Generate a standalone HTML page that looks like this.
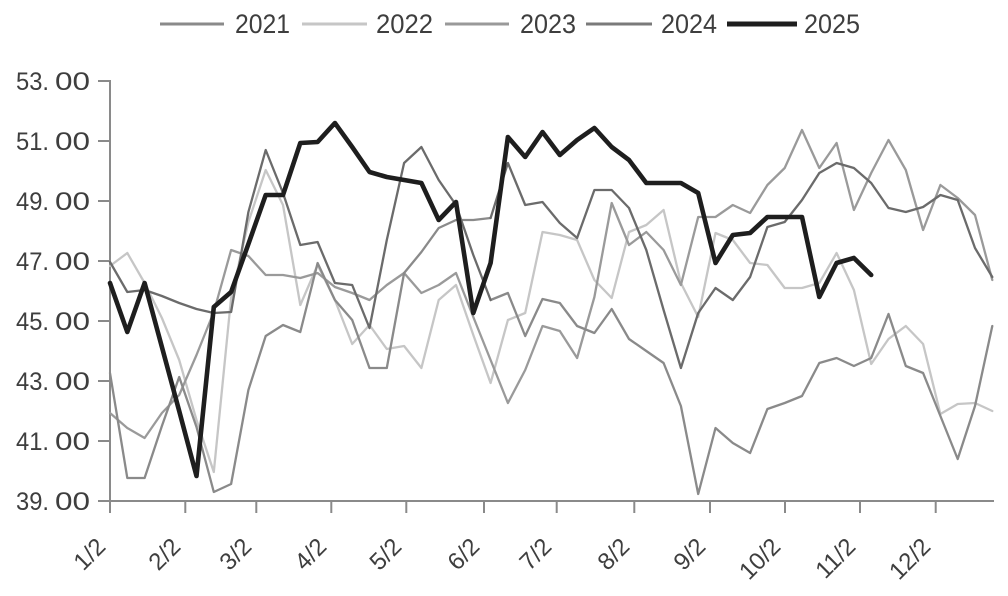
<!DOCTYPE html>
<html>
<head>
<meta charset="utf-8">
<style>
  html,body{margin:0;padding:0;background:#fff;}
  svg{display:block;}
  text{font-family:"Liberation Sans","Noto Sans CJK SC",sans-serif;fill:#3e3e3e;}
</style>
</head>
<body>
<svg width="1008" height="596" viewBox="0 0 1008 596" xmlns="http://www.w3.org/2000/svg">
  <rect width="1008" height="596" fill="#fff"/>

  <!-- Legend -->
  <g stroke-linecap="butt">
    <line x1="160" y1="24" x2="224" y2="24" stroke="#8a8a8a" stroke-width="3"/>
    <line x1="302" y1="24" x2="367" y2="24" stroke="#c6c6c6" stroke-width="3"/>
    <line x1="445" y1="24" x2="509" y2="24" stroke="#999999" stroke-width="3"/>
    <line x1="586" y1="24" x2="652" y2="24" stroke="#7a7a7a" stroke-width="3"/>
    <line x1="727" y1="24" x2="797" y2="24" stroke="#1e1e1e" stroke-width="5"/>
  </g>
  <g font-size="27">
    <text x="235" y="33" textLength="55" lengthAdjust="spacingAndGlyphs">2021</text>
    <text x="376" y="33" textLength="57" lengthAdjust="spacingAndGlyphs">2022</text>
    <text x="520" y="33" textLength="56" lengthAdjust="spacingAndGlyphs">2023</text>
    <text x="661" y="33" textLength="56" lengthAdjust="spacingAndGlyphs">2024</text>
    <text x="804" y="33" textLength="56" lengthAdjust="spacingAndGlyphs">2025</text>
  </g>

  <!-- Axes -->
  <g stroke="#8a8a8a" stroke-width="2" fill="none">
    <line x1="110" y1="80" x2="110" y2="502"/>
    <line x1="109" y1="501" x2="994" y2="501"/>
    <line x1="98" y1="81" x2="110" y2="81"/>
    <line x1="98" y1="141" x2="110" y2="141"/>
    <line x1="98" y1="201" x2="110" y2="201"/>
    <line x1="98" y1="261" x2="110" y2="261"/>
    <line x1="98" y1="321" x2="110" y2="321"/>
    <line x1="98" y1="381" x2="110" y2="381"/>
    <line x1="98" y1="441" x2="110" y2="441"/>
    <line x1="98" y1="501" x2="110" y2="501"/>
    <line x1="110" y1="501" x2="110" y2="513"/>
    <line x1="185.3" y1="501" x2="185.3" y2="513"/>
    <line x1="256.3" y1="501" x2="256.3" y2="513"/>
    <line x1="331.3" y1="501" x2="331.3" y2="513"/>
    <line x1="406.3" y1="501" x2="406.3" y2="513"/>
    <line x1="484" y1="501" x2="484" y2="513"/>
    <line x1="556.7" y1="501" x2="556.7" y2="513"/>
    <line x1="634.3" y1="501" x2="634.3" y2="513"/>
    <line x1="710" y1="501" x2="710" y2="513"/>
    <line x1="785" y1="501" x2="785" y2="513"/>
    <line x1="860" y1="501" x2="860" y2="513"/>
    <line x1="935.7" y1="501" x2="935.7" y2="513"/>
  </g>

  <!-- Y labels -->
  <g font-size="25">
    <text x="16" y="90" textLength="33" lengthAdjust="spacingAndGlyphs">53.</text><text x="55" y="90" textLength="35" lengthAdjust="spacingAndGlyphs">00</text>
    <text x="16" y="150" textLength="33" lengthAdjust="spacingAndGlyphs">51.</text><text x="55" y="150" textLength="35" lengthAdjust="spacingAndGlyphs">00</text>
    <text x="16" y="210" textLength="33" lengthAdjust="spacingAndGlyphs">49.</text><text x="55" y="210" textLength="35" lengthAdjust="spacingAndGlyphs">00</text>
    <text x="16" y="270" textLength="33" lengthAdjust="spacingAndGlyphs">47.</text><text x="55" y="270" textLength="35" lengthAdjust="spacingAndGlyphs">00</text>
    <text x="16" y="330" textLength="33" lengthAdjust="spacingAndGlyphs">45.</text><text x="55" y="330" textLength="35" lengthAdjust="spacingAndGlyphs">00</text>
    <text x="16" y="390" textLength="33" lengthAdjust="spacingAndGlyphs">43.</text><text x="55" y="390" textLength="35" lengthAdjust="spacingAndGlyphs">00</text>
    <text x="16" y="450" textLength="33" lengthAdjust="spacingAndGlyphs">41.</text><text x="55" y="450" textLength="35" lengthAdjust="spacingAndGlyphs">00</text>
    <text x="16" y="510" textLength="33" lengthAdjust="spacingAndGlyphs">39.</text><text x="55" y="510" textLength="35" lengthAdjust="spacingAndGlyphs">00</text>
  </g>

  <!-- X labels (rotated) -->
  <g font-size="24" text-anchor="end" style="fill:#454545">
    <text transform="translate(107,548) rotate(-45)">1/2</text>
    <text transform="translate(182,548) rotate(-45)">2/2</text>
    <text transform="translate(253,548) rotate(-45)">3/2</text>
    <text transform="translate(328,548) rotate(-45)">4/2</text>
    <text transform="translate(403,548) rotate(-45)">5/2</text>
    <text transform="translate(481,548) rotate(-45)">6/2</text>
    <text transform="translate(553,548) rotate(-45)">7/2</text>
    <text transform="translate(631,548) rotate(-45)">8/2</text>
    <text transform="translate(707,548) rotate(-45)">9/2</text>
    <text transform="translate(782,548) rotate(-45)">10/2</text>
    <text transform="translate(857,548) rotate(-45)">11/2</text>
    <text transform="translate(932,548) rotate(-45)">12/2</text>
  </g>

  <!-- Series -->
  <g fill="none" stroke-linejoin="round" stroke-linecap="round">
    <polyline stroke="#c6c6c6" stroke-width="2.3" points="110,266 127.3,253 144.6,283 161.9,318 179.2,360 196.5,420 213.8,472 231.1,298 248.4,222 265.7,170 283,205 300.3,305 317.6,265 334.9,300 352.2,344 369.5,325 386.8,349 404.1,346 421.4,368 438.7,300 456,285 473.3,335 490.6,383 507.9,320 525.2,313 542.5,232 559.8,235 577.1,240 594.4,280 611.7,298 629,232 646.3,225 663.6,210 680.9,283 698.2,317 715.5,233 732.8,240 750.1,263 767.4,265 784.7,288 802,288 819.3,283 836.6,253 853.9,290 871.2,364 888.5,339 905.8,326 923.1,344 940.4,414 957.7,404 975,403 992.3,411"/>
    <polyline stroke="#9a9a9a" stroke-width="2.3" points="110,413 127.3,428 144.6,438 161.9,413 179.2,395 196.5,355 213.8,312 231.1,250 248.4,256 265.7,275 283,275 300.3,278 317.6,273 334.9,287 352.2,293 369.5,300 386.8,285 404.1,273 421.4,293 438.7,285 456,273 473.3,317 490.6,360 507.9,403 525.2,370 542.5,326 559.8,331 577.1,358 594.4,297 611.7,203 629,245 646.3,232 663.6,250 680.9,285 698.2,217 715.5,217 732.8,205 750.1,213 767.4,185 784.7,168 802,130 819.3,168 836.6,143 853.9,210 871.2,173 888.5,140 905.8,170 923.1,230 940.4,185 957.7,198 975,215 992.3,280"/>
    <polyline stroke="#8a8a8a" stroke-width="2.3" points="110,373 127.3,478 144.6,478 161.9,426 179.2,377 196.5,427 213.8,492 231.1,484 248.4,390 265.7,336 283,325 300.3,332 317.6,263 334.9,300 352.2,320 369.5,368 386.8,368 404.1,273 421.4,252 438.7,228 456,220 473.3,220 490.6,218"/>
    <polyline stroke="#8a8a8a" stroke-width="2.3" points="490.6,300 507.9,293 525.2,336 542.5,299 559.8,303 577.1,326 594.4,333 611.7,309 629,339 646.3,351 663.6,363 680.9,406 698.2,494 715.5,428 732.8,443 750.1,453 767.4,409 784.7,403 802,396 819.3,363 836.6,358 853.9,366 871.2,358 888.5,314 905.8,366 923.1,373 940.4,416 957.7,459 975,406 992.3,326"/>
    <polyline stroke="#6b6b6b" stroke-width="2.3" points="110,262 127.3,292 144.6,290 161.9,296 179.2,303 196.5,309 213.8,313 231.1,312 248.4,212 265.7,150 283,193 300.3,245 317.6,242 334.9,283 352.2,285 369.5,328 386.8,240 404.1,163 421.4,147 438.7,180 456,205 473.3,255 490.6,300"/>
    <polyline stroke="#6b6b6b" stroke-width="2.3" points="490.6,218 507.9,163 525.2,205 542.5,202 559.8,223 577.1,238 594.4,190 611.7,190 629,208 646.3,250 663.6,310 680.9,368 698.2,313 715.5,288 732.8,300 750.1,277 767.4,227 784.7,222 802,200 819.3,173 836.6,163 853.9,168 871.2,183 888.5,208 905.8,212 923.1,207 940.4,195 957.7,200 975,248 992.3,277"/>
    <polyline stroke="#1e1e1e" stroke-width="4.6" points="110,283 127.3,332 144.6,283 161.9,347 179.2,411 196.5,476 213.8,307 231.1,292 248.4,244 265.7,195 283,195 300.3,143 317.6,142 334.9,123 352.2,147 369.5,172 386.8,177 404.1,180 421.4,183 438.7,220 456,202 473.3,313 490.6,263 507.9,137 525.2,157 542.5,132 559.8,155 577.1,140 594.4,128 611.7,147 629,160 646.3,183 663.6,183 680.9,183 698.2,193 715.5,263 732.8,235 750.1,233 767.4,217 784.7,217 802,217 819.3,297 836.6,263 853.9,258 871.2,275"/>
  </g>
</svg>
</body>
</html>
